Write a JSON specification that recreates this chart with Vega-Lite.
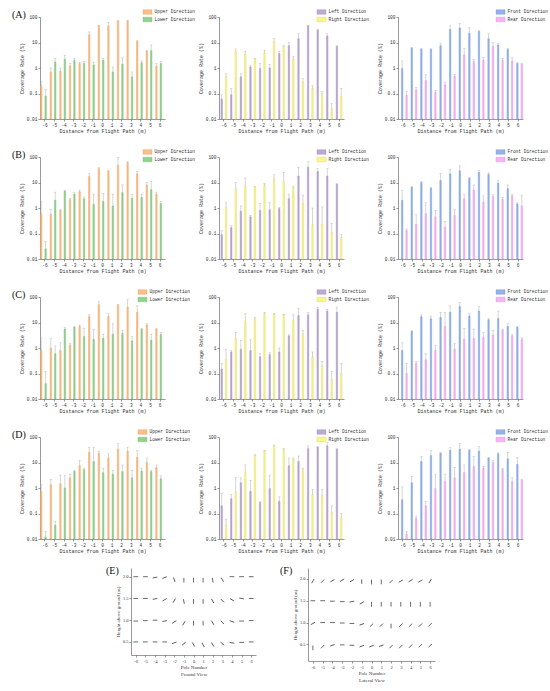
{
  "$schema": "https://vega.github.io/schema/vega-lite/v6.json",
  "background": "white",
  "padding": {"left": 12, "top": 9, "right": 0, "bottom": 0},
  "config": {
    "view": {"stroke": null},
    "axis": {"grid": false, "labelFont": "Liberation Mono", "titleFont": "Liberation Mono", "labelFontSize": 4.5, "titleFontSize": 5, "titleFontWeight": "normal", "labelColor": "#333", "titleColor": "#333", "domainColor": "#555", "tickColor": "#555", "domainWidth": 0.6, "tickWidth": 0.6, "tickSize": 2, "labelPadding": 1, "titlePadding": 2},
    "legend": {"labelFont": "Liberation Mono", "labelFontSize": 4.5, "labelColor": "#333", "symbolType": "M-2,-1H2V1H-2Z", "symbolSize": 20, "rowPadding": 0.5, "labelOffset": 4.5, "padding": 0, "symbolStrokeWidth": 0.4},
    "title": {"font": "Liberation Serif", "fontSize": 10, "fontWeight": "normal", "color": "#111", "anchor": "start", "frame": "group", "offset": 2}
  },
  "datasets": {
    "bars": [
      {"p":"A1","s":"Upper Direction","x":-6,"v":0.2,"h":0.3},{"p":"A1","s":"Upper Direction","x":-5,"v":0.7,"h":1.0},{"p":"A1","s":"Upper Direction","x":-4,"v":0.75,"h":1.0},{"p":"A1","s":"Upper Direction","x":-3,"v":1.2,"h":1.5},{"p":"A1","s":"Upper Direction","x":-2,"v":1.5,"h":1.7},{"p":"A1","s":"Upper Direction","x":-1,"v":20,"h":26},{"p":"A1","s":"Upper Direction","x":0,"v":45,"h":47},{"p":"A1","s":"Upper Direction","x":1,"v":45,"h":62},{"p":"A1","s":"Upper Direction","x":2,"v":70,"h":72},{"p":"A1","s":"Upper Direction","x":3,"v":70,"h":72},{"p":"A1","s":"Upper Direction","x":4,"v":11,"h":12},{"p":"A1","s":"Upper Direction","x":5,"v":4.5,"h":5},{"p":"A1","s":"Upper Direction","x":6,"v":1.2,"h":1.5},
      {"p":"A1","s":"Lower Direction","x":-6,"v":0.08,"h":0.14},{"p":"A1","s":"Lower Direction","x":-5,"v":1.7,"h":2.4},{"p":"A1","s":"Lower Direction","x":-4,"v":2.2,"h":3.2},{"p":"A1","s":"Lower Direction","x":-3,"v":2.0,"h":2.4},{"p":"A1","s":"Lower Direction","x":-2,"v":1.5,"h":1.8},{"p":"A1","s":"Lower Direction","x":-1,"v":1.3,"h":1.7},{"p":"A1","s":"Lower Direction","x":0,"v":2.0,"h":2.4},{"p":"A1","s":"Lower Direction","x":1,"v":0.7,"h":1.1},{"p":"A1","s":"Lower Direction","x":2,"v":1.4,"h":2.5},{"p":"A1","s":"Lower Direction","x":3,"v":0.45,"h":0.7},{"p":"A1","s":"Lower Direction","x":4,"v":1.6,"h":1.9},{"p":"A1","s":"Lower Direction","x":5,"v":4.8,"h":8},{"p":"A1","s":"Lower Direction","x":6,"v":1.5,"h":1.8},
      {"p":"A2","s":"Left Direction","x":-6,"v":0.06,"h":0.09},{"p":"A2","s":"Left Direction","x":-5,"v":0.09,"h":0.16},{"p":"A2","s":"Left Direction","x":-4,"v":0.45,"h":0.6},{"p":"A2","s":"Left Direction","x":-3,"v":1.1,"h":1.3},{"p":"A2","s":"Left Direction","x":-2,"v":0.95,"h":1.5},{"p":"A2","s":"Left Direction","x":-1,"v":1.0,"h":1.4},{"p":"A2","s":"Left Direction","x":0,"v":3.7,"h":4.5},{"p":"A2","s":"Left Direction","x":1,"v":7.5,"h":10},{"p":"A2","s":"Left Direction","x":2,"v":14,"h":22},{"p":"A2","s":"Left Direction","x":3,"v":45,"h":47},{"p":"A2","s":"Left Direction","x":4,"v":30,"h":32},{"p":"A2","s":"Left Direction","x":5,"v":18,"h":22},{"p":"A2","s":"Left Direction","x":6,"v":7,"h":7.5},
      {"p":"A2","s":"Right Direction","x":-6,"v":0.45,"h":0.6},{"p":"A2","s":"Right Direction","x":-5,"v":4.5,"h":5.5},{"p":"A2","s":"Right Direction","x":-4,"v":3.5,"h":4.5},{"p":"A2","s":"Right Direction","x":-3,"v":2.2,"h":2.4},{"p":"A2","s":"Right Direction","x":-2,"v":4.0,"h":5},{"p":"A2","s":"Right Direction","x":-1,"v":11,"h":14},{"p":"A2","s":"Right Direction","x":0,"v":7,"h":7.5},{"p":"A2","s":"Right Direction","x":1,"v":2.3,"h":2.8},{"p":"A2","s":"Right Direction","x":2,"v":0.28,"h":0.38},{"p":"A2","s":"Right Direction","x":3,"v":0.16,"h":0.2},{"p":"A2","s":"Right Direction","x":4,"v":0.1,"h":0.12},{"p":"A2","s":"Right Direction","x":5,"v":0.025,"h":0.04},{"p":"A2","s":"Right Direction","x":6,"v":0.075,"h":0.16},
      {"p":"A3","s":"Front Direction","x":-6,"v":0.95,"h":1.9},{"p":"A3","s":"Front Direction","x":-5,"v":6,"h":6.5},{"p":"A3","s":"Front Direction","x":-4,"v":5.5,"h":6},{"p":"A3","s":"Front Direction","x":-3,"v":5.3,"h":5.8},{"p":"A3","s":"Front Direction","x":-2,"v":7.5,"h":9},{"p":"A3","s":"Front Direction","x":-1,"v":33,"h":45},{"p":"A3","s":"Front Direction","x":0,"v":37,"h":55},{"p":"A3","s":"Front Direction","x":1,"v":23,"h":38},{"p":"A3","s":"Front Direction","x":2,"v":27,"h":29},{"p":"A3","s":"Front Direction","x":3,"v":14,"h":22},{"p":"A3","s":"Front Direction","x":4,"v":8,"h":9},{"p":"A3","s":"Front Direction","x":5,"v":5.3,"h":6},{"p":"A3","s":"Front Direction","x":6,"v":1.5,"h":1.6},
      {"p":"A3","s":"Rear Direction","x":-6,"v":0.085,"h":0.12},{"p":"A3","s":"Rear Direction","x":-5,"v":0.14,"h":0.17},{"p":"A3","s":"Rear Direction","x":-4,"v":0.32,"h":0.55},{"p":"A3","s":"Rear Direction","x":-3,"v":0.11,"h":0.13},{"p":"A3","s":"Rear Direction","x":-2,"v":0.22,"h":0.28},{"p":"A3","s":"Rear Direction","x":-1,"v":0.48,"h":0.55},{"p":"A3","s":"Rear Direction","x":0,"v":3.3,"h":6},{"p":"A3","s":"Rear Direction","x":1,"v":1.8,"h":2.2},{"p":"A3","s":"Rear Direction","x":2,"v":2.0,"h":2.6},{"p":"A3","s":"Rear Direction","x":3,"v":7,"h":10},{"p":"A3","s":"Rear Direction","x":4,"v":2.0,"h":2.4},{"p":"A3","s":"Rear Direction","x":5,"v":1.9,"h":2.5},{"p":"A3","s":"Rear Direction","x":6,"v":1.4,"h":1.5},
      {"p":"B1","s":"Upper Direction","x":-6,"v":0.6,"h":1.8},{"p":"B1","s":"Upper Direction","x":-5,"v":0.55,"h":0.9},{"p":"B1","s":"Upper Direction","x":-4,"v":0.8,"h":0.9},{"p":"B1","s":"Upper Direction","x":-3,"v":2.1,"h":2.4},{"p":"B1","s":"Upper Direction","x":-2,"v":4.3,"h":5},{"p":"B1","s":"Upper Direction","x":-1,"v":17,"h":22},{"p":"B1","s":"Upper Direction","x":0,"v":35,"h":38},{"p":"B1","s":"Upper Direction","x":1,"v":28,"h":30},{"p":"B1","s":"Upper Direction","x":2,"v":48,"h":95},{"p":"B1","s":"Upper Direction","x":3,"v":60,"h":65},{"p":"B1","s":"Upper Direction","x":4,"v":22,"h":27},{"p":"B1","s":"Upper Direction","x":5,"v":8,"h":10},{"p":"B1","s":"Upper Direction","x":6,"v":3.5,"h":4.2},
      {"p":"B1","s":"Lower Direction","x":-6,"v":0.025,"h":0.05},{"p":"B1","s":"Lower Direction","x":-5,"v":2.0,"h":4.2},{"p":"B1","s":"Lower Direction","x":-4,"v":4.5,"h":5},{"p":"B1","s":"Lower Direction","x":-3,"v":3.5,"h":4.2},{"p":"B1","s":"Lower Direction","x":-2,"v":2.3,"h":2.7},{"p":"B1","s":"Lower Direction","x":-1,"v":1.4,"h":3.5},{"p":"B1","s":"Lower Direction","x":0,"v":1.8,"h":3.7},{"p":"B1","s":"Lower Direction","x":1,"v":1.2,"h":3.5},{"p":"B1","s":"Lower Direction","x":2,"v":4.0,"h":8},{"p":"B1","s":"Lower Direction","x":3,"v":2.4,"h":3.5},{"p":"B1","s":"Lower Direction","x":4,"v":2.6,"h":3.5},{"p":"B1","s":"Lower Direction","x":5,"v":5.3,"h":11},{"p":"B1","s":"Lower Direction","x":6,"v":1.5,"h":1.8},
      {"p":"B2","s":"Left Direction","x":-6,"v":0.09,"h":0.13},{"p":"B2","s":"Left Direction","x":-5,"v":0.17,"h":0.2},{"p":"B2","s":"Left Direction","x":-4,"v":0.75,"h":1.2},{"p":"B2","s":"Left Direction","x":-3,"v":0.45,"h":0.52},{"p":"B2","s":"Left Direction","x":-2,"v":0.8,"h":1.5},{"p":"B2","s":"Left Direction","x":-1,"v":0.85,"h":1.6},{"p":"B2","s":"Left Direction","x":0,"v":0.95,"h":1.05},{"p":"B2","s":"Left Direction","x":1,"v":2.3,"h":3.5},{"p":"B2","s":"Left Direction","x":2,"v":18,"h":40},{"p":"B2","s":"Left Direction","x":3,"v":40,"h":65},{"p":"B2","s":"Left Direction","x":4,"v":27,"h":35},{"p":"B2","s":"Left Direction","x":5,"v":18,"h":35},{"p":"B2","s":"Left Direction","x":6,"v":8.5,"h":9},
      {"p":"B2","s":"Right Direction","x":-6,"v":1.1,"h":1.6},{"p":"B2","s":"Right Direction","x":-5,"v":5.5,"h":10},{"p":"B2","s":"Right Direction","x":-4,"v":7.5,"h":15},{"p":"B2","s":"Right Direction","x":-3,"v":6.5,"h":7},{"p":"B2","s":"Right Direction","x":-2,"v":8,"h":9},{"p":"B2","s":"Right Direction","x":-1,"v":14,"h":20},{"p":"B2","s":"Right Direction","x":0,"v":11,"h":25},{"p":"B2","s":"Right Direction","x":1,"v":6.2,"h":7},{"p":"B2","s":"Right Direction","x":2,"v":1.5,"h":3.2},{"p":"B2","s":"Right Direction","x":3,"v":0.22,"h":1.0},{"p":"B2","s":"Right Direction","x":4,"v":0.23,"h":1.1},{"p":"B2","s":"Right Direction","x":5,"v":0.11,"h":0.25},{"p":"B2","s":"Right Direction","x":6,"v":0.07,"h":0.09},
      {"p":"B3","s":"Front Direction","x":-6,"v":2,"h":5},{"p":"B3","s":"Front Direction","x":-5,"v":6.5,"h":7},{"p":"B3","s":"Front Direction","x":-4,"v":10,"h":11},{"p":"B3","s":"Front Direction","x":-3,"v":6,"h":6.5},{"p":"B3","s":"Front Direction","x":-2,"v":12,"h":23},{"p":"B3","s":"Front Direction","x":-1,"v":22,"h":33},{"p":"B3","s":"Front Direction","x":0,"v":29,"h":45},{"p":"B3","s":"Front Direction","x":1,"v":14.5,"h":16},{"p":"B3","s":"Front Direction","x":2,"v":25,"h":30},{"p":"B3","s":"Front Direction","x":3,"v":21,"h":24},{"p":"B3","s":"Front Direction","x":4,"v":9.5,"h":12},{"p":"B3","s":"Front Direction","x":5,"v":5.8,"h":8},{"p":"B3","s":"Front Direction","x":6,"v":1.45,"h":1.6},
      {"p":"B3","s":"Rear Direction","x":-6,"v":0.13,"h":0.15},{"p":"B3","s":"Rear Direction","x":-5,"v":0.23,"h":0.55},{"p":"B3","s":"Rear Direction","x":-4,"v":0.6,"h":1.6},{"p":"B3","s":"Rear Direction","x":-3,"v":0.45,"h":0.8},{"p":"B3","s":"Rear Direction","x":-2,"v":0.18,"h":0.3},{"p":"B3","s":"Rear Direction","x":-1,"v":0.5,"h":0.9},{"p":"B3","s":"Rear Direction","x":0,"v":2.3,"h":3.5},{"p":"B3","s":"Rear Direction","x":1,"v":5,"h":8},{"p":"B3","s":"Rear Direction","x":2,"v":1.7,"h":3},{"p":"B3","s":"Rear Direction","x":3,"v":2.8,"h":3.3},{"p":"B3","s":"Rear Direction","x":4,"v":2.2,"h":2.6},{"p":"B3","s":"Rear Direction","x":5,"v":3.0,"h":3.5},{"p":"B3","s":"Rear Direction","x":6,"v":1.2,"h":3.2},
      {"p":"C1","s":"Upper Direction","x":-6,"v":0.85,"h":2.5},{"p":"C1","s":"Upper Direction","x":-5,"v":1.0,"h":2.3},{"p":"C1","s":"Upper Direction","x":-4,"v":0.8,"h":1.6},{"p":"C1","s":"Upper Direction","x":-3,"v":1.3,"h":1.5},{"p":"C1","s":"Upper Direction","x":-2,"v":7,"h":8},{"p":"C1","s":"Upper Direction","x":-1,"v":17,"h":20},{"p":"C1","s":"Upper Direction","x":0,"v":50,"h":65},{"p":"C1","s":"Upper Direction","x":1,"v":17,"h":22},{"p":"C1","s":"Upper Direction","x":2,"v":48,"h":52},{"p":"C1","s":"Upper Direction","x":3,"v":40,"h":80},{"p":"C1","s":"Upper Direction","x":4,"v":25,"h":45},{"p":"C1","s":"Upper Direction","x":5,"v":8,"h":9},{"p":"C1","s":"Upper Direction","x":6,"v":5.5,"h":6},
      {"p":"C1","s":"Lower Direction","x":-6,"v":0.04,"h":0.12},{"p":"C1","s":"Lower Direction","x":-5,"v":0.6,"h":1.2},{"p":"C1","s":"Lower Direction","x":-4,"v":5.5,"h":6.5},{"p":"C1","s":"Lower Direction","x":-3,"v":6.5,"h":7},{"p":"C1","s":"Lower Direction","x":-2,"v":2.8,"h":6},{"p":"C1","s":"Lower Direction","x":-1,"v":2.2,"h":5.5},{"p":"C1","s":"Lower Direction","x":0,"v":2.4,"h":3.5},{"p":"C1","s":"Lower Direction","x":1,"v":3.5,"h":9},{"p":"C1","s":"Lower Direction","x":2,"v":3.7,"h":5},{"p":"C1","s":"Lower Direction","x":3,"v":1.9,"h":2.8},{"p":"C1","s":"Lower Direction","x":4,"v":5.5,"h":6},{"p":"C1","s":"Lower Direction","x":5,"v":2.0,"h":3.5},{"p":"C1","s":"Lower Direction","x":6,"v":3.4,"h":4},
      {"p":"C2","s":"Left Direction","x":-6,"v":0.15,"h":0.25},{"p":"C2","s":"Left Direction","x":-5,"v":0.7,"h":0.8},{"p":"C2","s":"Left Direction","x":-4,"v":0.9,"h":2},{"p":"C2","s":"Left Direction","x":-3,"v":0.8,"h":2.1},{"p":"C2","s":"Left Direction","x":-2,"v":0.45,"h":0.6},{"p":"C2","s":"Left Direction","x":-1,"v":0.55,"h":0.65},{"p":"C2","s":"Left Direction","x":0,"v":0.7,"h":1},{"p":"C2","s":"Left Direction","x":1,"v":3,"h":3.3},{"p":"C2","s":"Left Direction","x":2,"v":19,"h":35},{"p":"C2","s":"Left Direction","x":3,"v":20,"h":25},{"p":"C2","s":"Left Direction","x":4,"v":33,"h":40},{"p":"C2","s":"Left Direction","x":5,"v":28,"h":33},{"p":"C2","s":"Left Direction","x":6,"v":25,"h":40},
      {"p":"C2","s":"Right Direction","x":-6,"v":0.35,"h":0.9},{"p":"C2","s":"Right Direction","x":-5,"v":2.4,"h":4},{"p":"C2","s":"Right Direction","x":-4,"v":11,"h":22},{"p":"C2","s":"Right Direction","x":-3,"v":14,"h":16},{"p":"C2","s":"Right Direction","x":-2,"v":22,"h":25},{"p":"C2","s":"Right Direction","x":-1,"v":21,"h":23},{"p":"C2","s":"Right Direction","x":0,"v":20,"h":21},{"p":"C2","s":"Right Direction","x":1,"v":12,"h":20},{"p":"C2","s":"Right Direction","x":2,"v":3.5,"h":5},{"p":"C2","s":"Right Direction","x":3,"v":0.45,"h":0.7},{"p":"C2","s":"Right Direction","x":4,"v":0.2,"h":0.3},{"p":"C2","s":"Right Direction","x":5,"v":0.06,"h":0.12},{"p":"C2","s":"Right Direction","x":6,"v":0.1,"h":0.25},
      {"p":"C3","s":"Front Direction","x":-6,"v":0.8,"h":1.6},{"p":"C3","s":"Front Direction","x":-5,"v":4.5,"h":5},{"p":"C3","s":"Front Direction","x":-4,"v":17,"h":20},{"p":"C3","s":"Front Direction","x":-3,"v":14,"h":18},{"p":"C3","s":"Front Direction","x":-2,"v":16,"h":25},{"p":"C3","s":"Front Direction","x":-1,"v":25,"h":45},{"p":"C3","s":"Front Direction","x":0,"v":42,"h":62},{"p":"C3","s":"Front Direction","x":1,"v":18,"h":22},{"p":"C3","s":"Front Direction","x":2,"v":28,"h":42},{"p":"C3","s":"Front Direction","x":3,"v":13,"h":14},{"p":"C3","s":"Front Direction","x":4,"v":14.5,"h":28},{"p":"C3","s":"Front Direction","x":5,"v":7,"h":9},{"p":"C3","s":"Front Direction","x":6,"v":6.5,"h":7},
      {"p":"C3","s":"Rear Direction","x":-6,"v":0.1,"h":0.25},{"p":"C3","s":"Rear Direction","x":-5,"v":0.25,"h":0.3},{"p":"C3","s":"Rear Direction","x":-4,"v":0.35,"h":0.6},{"p":"C3","s":"Rear Direction","x":-3,"v":0.8,"h":1.3},{"p":"C3","s":"Rear Direction","x":-2,"v":7,"h":25},{"p":"C3","s":"Rear Direction","x":-1,"v":0.9,"h":1.5},{"p":"C3","s":"Rear Direction","x":0,"v":2.2,"h":6},{"p":"C3","s":"Rear Direction","x":1,"v":2.4,"h":5.5},{"p":"C3","s":"Rear Direction","x":2,"v":2.6,"h":4},{"p":"C3","s":"Rear Direction","x":3,"v":3.2,"h":5},{"p":"C3","s":"Rear Direction","x":4,"v":5,"h":5.5},{"p":"C3","s":"Rear Direction","x":5,"v":3,"h":3.5},{"p":"C3","s":"Rear Direction","x":6,"v":2.2,"h":2.5},
      {"p":"D1","s":"Upper Direction","x":-6,"v":0.7,"h":1.4},{"p":"D1","s":"Upper Direction","x":-5,"v":1.35,"h":2.2},{"p":"D1","s":"Upper Direction","x":-4,"v":1.45,"h":3.2},{"p":"D1","s":"Upper Direction","x":-3,"v":2.5,"h":3.5},{"p":"D1","s":"Upper Direction","x":-2,"v":7.5,"h":12},{"p":"D1","s":"Upper Direction","x":-1,"v":25,"h":40},{"p":"D1","s":"Upper Direction","x":0,"v":23,"h":28},{"p":"D1","s":"Upper Direction","x":1,"v":15,"h":22},{"p":"D1","s":"Upper Direction","x":2,"v":33,"h":55},{"p":"D1","s":"Upper Direction","x":3,"v":28,"h":40},{"p":"D1","s":"Upper Direction","x":4,"v":16,"h":30},{"p":"D1","s":"Upper Direction","x":5,"v":10,"h":15},{"p":"D1","s":"Upper Direction","x":6,"v":6.3,"h":8},
      {"p":"D1","s":"Lower Direction","x":-6,"v":0.012,"h":0.02},{"p":"D1","s":"Lower Direction","x":-5,"v":0.035,"h":0.05},{"p":"D1","s":"Lower Direction","x":-4,"v":1.0,"h":3},{"p":"D1","s":"Lower Direction","x":-3,"v":4.5,"h":5},{"p":"D1","s":"Lower Direction","x":-2,"v":5.2,"h":6},{"p":"D1","s":"Lower Direction","x":-1,"v":11,"h":40},{"p":"D1","s":"Lower Direction","x":0,"v":4,"h":6},{"p":"D1","s":"Lower Direction","x":1,"v":3.5,"h":5},{"p":"D1","s":"Lower Direction","x":2,"v":4.4,"h":8},{"p":"D1","s":"Lower Direction","x":3,"v":2.5,"h":5},{"p":"D1","s":"Lower Direction","x":4,"v":4.6,"h":6},{"p":"D1","s":"Lower Direction","x":5,"v":4.4,"h":5},{"p":"D1","s":"Lower Direction","x":6,"v":2.3,"h":3},
      {"p":"D2","s":"Left Direction","x":-6,"v":0.2,"h":0.6},{"p":"D2","s":"Left Direction","x":-5,"v":0.38,"h":0.55},{"p":"D2","s":"Left Direction","x":-4,"v":1.6,"h":2.5},{"p":"D2","s":"Left Direction","x":-3,"v":0.75,"h":2},{"p":"D2","s":"Left Direction","x":-2,"v":0.27,"h":0.3},{"p":"D2","s":"Left Direction","x":-1,"v":0.95,"h":3.2},{"p":"D2","s":"Left Direction","x":0,"v":0.3,"h":0.45},{"p":"D2","s":"Left Direction","x":1,"v":7.5,"h":15},{"p":"D2","s":"Left Direction","x":2,"v":11,"h":18},{"p":"D2","s":"Left Direction","x":3,"v":35,"h":45},{"p":"D2","s":"Left Direction","x":4,"v":40,"h":42},{"p":"D2","s":"Left Direction","x":5,"v":45,"h":60},{"p":"D2","s":"Left Direction","x":6,"v":33,"h":35},
      {"p":"D2","s":"Right Direction","x":-6,"v":0.035,"h":0.06},{"p":"D2","s":"Right Direction","x":-5,"v":0.7,"h":2.5},{"p":"D2","s":"Right Direction","x":-4,"v":4,"h":8},{"p":"D2","s":"Right Direction","x":-3,"v":19,"h":20},{"p":"D2","s":"Right Direction","x":-2,"v":28,"h":30},{"p":"D2","s":"Right Direction","x":-1,"v":45,"h":48},{"p":"D2","s":"Right Direction","x":0,"v":32,"h":35},{"p":"D2","s":"Right Direction","x":1,"v":13,"h":15},{"p":"D2","s":"Right Direction","x":2,"v":5,"h":6},{"p":"D2","s":"Right Direction","x":3,"v":0.55,"h":0.9},{"p":"D2","s":"Right Direction","x":4,"v":0.5,"h":0.9},{"p":"D2","s":"Right Direction","x":5,"v":0.11,"h":0.2},{"p":"D2","s":"Right Direction","x":6,"v":0.07,"h":0.1},
      {"p":"D3","s":"Front Direction","x":-6,"v":0.35,"h":1.1},{"p":"D3","s":"Front Direction","x":-5,"v":1.6,"h":2.8},{"p":"D3","s":"Front Direction","x":-4,"v":11,"h":17},{"p":"D3","s":"Front Direction","x":-3,"v":19,"h":30},{"p":"D3","s":"Front Direction","x":-2,"v":23,"h":25},{"p":"D3","s":"Front Direction","x":-1,"v":30,"h":38},{"p":"D3","s":"Front Direction","x":0,"v":33,"h":55},{"p":"D3","s":"Front Direction","x":1,"v":30,"h":33},{"p":"D3","s":"Front Direction","x":2,"v":28,"h":42},{"p":"D3","s":"Front Direction","x":3,"v":15,"h":16},{"p":"D3","s":"Front Direction","x":4,"v":22,"h":24},{"p":"D3","s":"Front Direction","x":5,"v":14,"h":25},{"p":"D3","s":"Front Direction","x":6,"v":8.5,"h":16},
      {"p":"D3","s":"Rear Direction","x":-6,"v":0.015,"h":0.02},{"p":"D3","s":"Rear Direction","x":-5,"v":0.065,"h":0.08},{"p":"D3","s":"Rear Direction","x":-4,"v":0.2,"h":0.3},{"p":"D3","s":"Rear Direction","x":-3,"v":0.95,"h":3.5},{"p":"D3","s":"Rear Direction","x":-2,"v":1.8,"h":3.5},{"p":"D3","s":"Rear Direction","x":-1,"v":2.5,"h":6.5},{"p":"D3","s":"Rear Direction","x":0,"v":4,"h":8},{"p":"D3","s":"Rear Direction","x":1,"v":7,"h":17},{"p":"D3","s":"Rear Direction","x":2,"v":6,"h":7},{"p":"D3","s":"Rear Direction","x":3,"v":10,"h":12},{"p":"D3","s":"Rear Direction","x":4,"v":5.3,"h":6},{"p":"D3","s":"Rear Direction","x":5,"v":1.8,"h":2.5},{"p":"D3","s":"Rear Direction","x":6,"v":2.0,"h":2.2}
    ],
    "arrows": [
      {"g":"E","x":-6,"y":2.0,"a":0},{"g":"E","x":-5,"y":2.0,"a":0},{"g":"E","x":-4,"y":1.98,"a":-10},{"g":"E","x":-3,"y":1.98,"a":-20},{"g":"E","x":-2,"y":1.93,"a":70},{"g":"E","x":-1,"y":1.92,"a":90},{"g":"E","x":0,"y":1.92,"a":90},{"g":"E","x":1,"y":1.92,"a":90},{"g":"E","x":2,"y":1.92,"a":80},{"g":"E","x":3,"y":1.93,"a":60},{"g":"E","x":4,"y":2.0,"a":0},{"g":"E","x":5,"y":2.0,"a":0},{"g":"E","x":6,"y":2.0,"a":0},
      {"g":"E","x":-6,"y":1.5,"a":0},{"g":"E","x":-5,"y":1.5,"a":0},{"g":"E","x":-4,"y":1.49,"a":-10},{"g":"E","x":-3,"y":1.47,"a":-30},{"g":"E","x":-2,"y":1.45,"a":-60},{"g":"E","x":-1,"y":1.43,"a":80},{"g":"E","x":0,"y":1.43,"a":90},{"g":"E","x":1,"y":1.43,"a":90},{"g":"E","x":2,"y":1.44,"a":60},{"g":"E","x":3,"y":1.45,"a":45},{"g":"E","x":4,"y":1.47,"a":30},{"g":"E","x":5,"y":1.5,"a":10},{"g":"E","x":6,"y":1.5,"a":0},
      {"g":"E","x":-6,"y":0.98,"a":0},{"g":"E","x":-5,"y":0.99,"a":0},{"g":"E","x":-4,"y":1.0,"a":0},{"g":"E","x":-3,"y":0.98,"a":-10},{"g":"E","x":-2,"y":0.96,"a":-30},{"g":"E","x":-1,"y":0.93,"a":-60},{"g":"E","x":0,"y":0.93,"a":90},{"g":"E","x":1,"y":0.93,"a":90},{"g":"E","x":2,"y":0.94,"a":60},{"g":"E","x":3,"y":0.95,"a":45},{"g":"E","x":4,"y":0.97,"a":20},{"g":"E","x":5,"y":0.98,"a":0},{"g":"E","x":6,"y":0.99,"a":0},
      {"g":"E","x":-6,"y":0.5,"a":0},{"g":"E","x":-5,"y":0.5,"a":0},{"g":"E","x":-4,"y":0.5,"a":0},{"g":"E","x":-3,"y":0.5,"a":0},{"g":"E","x":-2,"y":0.48,"a":-20},{"g":"E","x":-1,"y":0.46,"a":-40},{"g":"E","x":0,"y":0.44,"a":60},{"g":"E","x":1,"y":0.43,"a":60},{"g":"E","x":2,"y":0.44,"a":60},{"g":"E","x":3,"y":0.46,"a":40},{"g":"E","x":4,"y":0.48,"a":10},{"g":"E","x":5,"y":0.49,"a":0},{"g":"E","x":6,"y":0.5,"a":0},
      {"g":"F","x":-6,"y":1.95,"a":-60},{"g":"F","x":-5,"y":1.95,"a":-45},{"g":"F","x":-4,"y":1.96,"a":-30},{"g":"F","x":-3,"y":1.97,"a":-30},{"g":"F","x":-2,"y":1.96,"a":-30},{"g":"F","x":-1,"y":1.94,"a":90},{"g":"F","x":0,"y":1.93,"a":90},{"g":"F","x":1,"y":1.93,"a":90},{"g":"F","x":2,"y":1.94,"a":-45},{"g":"F","x":3,"y":1.95,"a":-30},{"g":"F","x":4,"y":1.96,"a":-30},{"g":"F","x":5,"y":1.95,"a":-30},{"g":"F","x":6,"y":1.95,"a":-60},
      {"g":"F","x":-6,"y":1.5,"a":0},{"g":"F","x":-5,"y":1.5,"a":0},{"g":"F","x":-4,"y":1.49,"a":0},{"g":"F","x":-3,"y":1.48,"a":0},{"g":"F","x":-2,"y":1.48,"a":-10},{"g":"F","x":-1,"y":1.45,"a":-30},{"g":"F","x":0,"y":1.42,"a":90},{"g":"F","x":1,"y":1.42,"a":90},{"g":"F","x":2,"y":1.42,"a":90},{"g":"F","x":3,"y":1.42,"a":90},{"g":"F","x":4,"y":1.42,"a":90},{"g":"F","x":5,"y":1.42,"a":90},{"g":"F","x":6,"y":1.42,"a":90},
      {"g":"F","x":-6,"y":0.98,"a":-30},{"g":"F","x":-5,"y":1.0,"a":0},{"g":"F","x":-4,"y":1.0,"a":0},{"g":"F","x":-3,"y":0.99,"a":0},{"g":"F","x":-2,"y":0.98,"a":0},{"g":"F","x":-1,"y":0.96,"a":-20},{"g":"F","x":0,"y":0.94,"a":-45},{"g":"F","x":1,"y":0.94,"a":-45},{"g":"F","x":2,"y":0.92,"a":90},{"g":"F","x":3,"y":0.94,"a":-45},{"g":"F","x":4,"y":0.94,"a":-45},{"g":"F","x":5,"y":0.94,"a":-45},{"g":"F","x":6,"y":0.95,"a":-45},
      {"g":"F","x":-6,"y":0.42,"a":90},{"g":"F","x":-5,"y":0.45,"a":-45},{"g":"F","x":-4,"y":0.48,"a":-20},{"g":"F","x":-3,"y":0.49,"a":0},{"g":"F","x":-2,"y":0.48,"a":0},{"g":"F","x":-1,"y":0.46,"a":-20},{"g":"F","x":0,"y":0.46,"a":-20},{"g":"F","x":1,"y":0.47,"a":-20},{"g":"F","x":2,"y":0.45,"a":-45},{"g":"F","x":3,"y":0.45,"a":-45},{"g":"F","x":4,"y":0.46,"a":-45},{"g":"F","x":5,"y":0.47,"a":-45},{"g":"F","x":6,"y":0.47,"a":-45}
    ]
  },
  "spacing": 12,
  "resolve": {"scale": {"color": "independent", "stroke": "independent", "x": "independent", "y": "independent"}, "legend": {"color": "independent"}},
  "vconcat": [
    {
      "columns": 3,
      "bounds": "flush",
      "spacing": {"row": 38, "column": 54},
      "resolve": {"scale": {"color": "independent", "stroke": "independent", "x": "independent", "y": "independent"}, "legend": {"color": "independent"}},
      "concat": [
        {"width": 125, "height": 102, "title": {"text": "(A)", "dx": -28, "dy": 12}, "data": {"name": "bars"}, "transform": [{"filter": "datum.p == 'A1'"}],
         "encoding": {"x": {"field": "x", "type": "ordinal", "scale": {"paddingInner": 0.08, "paddingOuter": 0.05}, "axis": {"labelAngle": 0, "title": "Distance from Flight Path (m)"}}, "xOffset": {"field": "s", "type": "nominal", "sort": ["Upper Direction", "Lower Direction"], "scale": {"paddingInner": 0, "paddingOuter": 0}}},
         "layer": [
           {"mark": {"type": "bar", "strokeWidth": 0.4}, "encoding": {"y": {"field": "v", "type": "quantitative", "title": "Coverage Rate (%)", "scale": {"type": "log", "domain": [0.01, 100], "clamp": true}, "axis": {"values": [0.01, 0.1, 1, 10, 100], "format": "~g"}}, "color": {"field": "s", "type": "nominal", "scale": {"domain": ["Upper Direction", "Lower Direction"], "range": ["#F9C08B", "#92D38F"]}, "legend": {"orient": "none", "legendX": 105, "legendY": -7.5, "title": null}}, "stroke": {"field": "s", "type": "nominal", "scale": {"domain": ["Upper Direction", "Lower Direction"], "range": ["#E59A55", "#6FB66C"]}, "legend": null}}},
           {"mark": {"type": "rule", "color": "#aaa", "strokeWidth": 0.5}, "encoding": {"y": {"field": "v", "type": "quantitative", "title": "Coverage Rate (%)"}, "y2": {"field": "h"}}},
           {"mark": {"type": "tick", "color": "#aaa", "thickness": 0.5, "size": 2.5}, "encoding": {"y": {"field": "h", "type": "quantitative", "title": "Coverage Rate (%)"}}}
         ]},
        {"width": 125, "height": 102, "data": {"name": "bars"}, "transform": [{"filter": "datum.p == 'A2'"}],
         "encoding": {"x": {"field": "x", "type": "ordinal", "scale": {"paddingInner": 0.08, "paddingOuter": 0.05}, "axis": {"labelAngle": 0, "title": "Distance from Flight Path (m)"}}, "xOffset": {"field": "s", "type": "nominal", "sort": ["Left Direction", "Right Direction"], "scale": {"paddingInner": 0, "paddingOuter": 0}}},
         "layer": [
           {"mark": {"type": "bar", "strokeWidth": 0.4}, "encoding": {"y": {"field": "v", "type": "quantitative", "title": "Coverage Rate (%)", "scale": {"type": "log", "domain": [0.01, 100], "clamp": true}, "axis": {"values": [0.01, 0.1, 1, 10, 100], "format": "~g"}}, "color": {"field": "s", "type": "nominal", "scale": {"domain": ["Left Direction", "Right Direction"], "range": ["#BDAAD3", "#FBF58E"]}, "legend": {"orient": "none", "legendX": 100, "legendY": -7.5, "title": null}}, "stroke": {"field": "s", "type": "nominal", "scale": {"domain": ["Left Direction", "Right Direction"], "range": ["#9C87B8", "#DCD35E"]}, "legend": null}}},
           {"mark": {"type": "rule", "color": "#aaa", "strokeWidth": 0.5}, "encoding": {"y": {"field": "v", "type": "quantitative", "title": "Coverage Rate (%)"}, "y2": {"field": "h"}}},
           {"mark": {"type": "tick", "color": "#aaa", "thickness": 0.5, "size": 2.5}, "encoding": {"y": {"field": "h", "type": "quantitative", "title": "Coverage Rate (%)"}}}
         ]},
        {"width": 125, "height": 102, "data": {"name": "bars"}, "transform": [{"filter": "datum.p == 'A3'"}],
         "encoding": {"x": {"field": "x", "type": "ordinal", "scale": {"paddingInner": 0.08, "paddingOuter": 0.05}, "axis": {"labelAngle": 0, "title": "Distance from Flight Path (m)"}}, "xOffset": {"field": "s", "type": "nominal", "sort": ["Front Direction", "Rear Direction"], "scale": {"paddingInner": 0, "paddingOuter": 0}}},
         "layer": [
           {"mark": {"type": "bar", "strokeWidth": 0.4}, "encoding": {"y": {"field": "v", "type": "quantitative", "title": "Coverage Rate (%)", "scale": {"type": "log", "domain": [0.01, 100], "clamp": true}, "axis": {"values": [0.01, 0.1, 1, 10, 100], "format": "~g"}}, "color": {"field": "s", "type": "nominal", "scale": {"domain": ["Front Direction", "Rear Direction"], "range": ["#93B3EC", "#F8B4F4"]}, "legend": {"orient": "none", "legendX": 100, "legendY": -7.5, "title": null}}, "stroke": {"field": "s", "type": "nominal", "scale": {"domain": ["Front Direction", "Rear Direction"], "range": ["#6F93D6", "#E08ADB"]}, "legend": null}}},
           {"mark": {"type": "rule", "color": "#aaa", "strokeWidth": 0.5}, "encoding": {"y": {"field": "v", "type": "quantitative", "title": "Coverage Rate (%)"}, "y2": {"field": "h"}}},
           {"mark": {"type": "tick", "color": "#aaa", "thickness": 0.5, "size": 2.5}, "encoding": {"y": {"field": "h", "type": "quantitative", "title": "Coverage Rate (%)"}}}
         ]},
        {"width": 125, "height": 102, "title": {"text": "(B)", "dx": -28, "dy": 12}, "data": {"name": "bars"}, "transform": [{"filter": "datum.p == 'B1'"}],
         "encoding": {"x": {"field": "x", "type": "ordinal", "scale": {"paddingInner": 0.08, "paddingOuter": 0.05}, "axis": {"labelAngle": 0, "title": "Distance from Flight Path (m)"}}, "xOffset": {"field": "s", "type": "nominal", "sort": ["Upper Direction", "Lower Direction"], "scale": {"paddingInner": 0, "paddingOuter": 0}}},
         "layer": [
           {"mark": {"type": "bar", "strokeWidth": 0.4}, "encoding": {"y": {"field": "v", "type": "quantitative", "title": "Coverage Rate (%)", "scale": {"type": "log", "domain": [0.01, 100], "clamp": true}, "axis": {"values": [0.01, 0.1, 1, 10, 100], "format": "~g"}}, "color": {"field": "s", "type": "nominal", "scale": {"domain": ["Upper Direction", "Lower Direction"], "range": ["#F9C08B", "#92D38F"]}, "legend": {"orient": "none", "legendX": 105, "legendY": -7.5, "title": null}}, "stroke": {"field": "s", "type": "nominal", "scale": {"domain": ["Upper Direction", "Lower Direction"], "range": ["#E59A55", "#6FB66C"]}, "legend": null}}},
           {"mark": {"type": "rule", "color": "#aaa", "strokeWidth": 0.5}, "encoding": {"y": {"field": "v", "type": "quantitative", "title": "Coverage Rate (%)"}, "y2": {"field": "h"}}},
           {"mark": {"type": "tick", "color": "#aaa", "thickness": 0.5, "size": 2.5}, "encoding": {"y": {"field": "h", "type": "quantitative", "title": "Coverage Rate (%)"}}}
         ]},
        {"width": 125, "height": 102, "data": {"name": "bars"}, "transform": [{"filter": "datum.p == 'B2'"}],
         "encoding": {"x": {"field": "x", "type": "ordinal", "scale": {"paddingInner": 0.08, "paddingOuter": 0.05}, "axis": {"labelAngle": 0, "title": "Distance from Flight Path (m)"}}, "xOffset": {"field": "s", "type": "nominal", "sort": ["Left Direction", "Right Direction"], "scale": {"paddingInner": 0, "paddingOuter": 0}}},
         "layer": [
           {"mark": {"type": "bar", "strokeWidth": 0.4}, "encoding": {"y": {"field": "v", "type": "quantitative", "title": "Coverage Rate (%)", "scale": {"type": "log", "domain": [0.01, 100], "clamp": true}, "axis": {"values": [0.01, 0.1, 1, 10, 100], "format": "~g"}}, "color": {"field": "s", "type": "nominal", "scale": {"domain": ["Left Direction", "Right Direction"], "range": ["#BDAAD3", "#FBF58E"]}, "legend": {"orient": "none", "legendX": 100, "legendY": -7.5, "title": null}}, "stroke": {"field": "s", "type": "nominal", "scale": {"domain": ["Left Direction", "Right Direction"], "range": ["#9C87B8", "#DCD35E"]}, "legend": null}}},
           {"mark": {"type": "rule", "color": "#aaa", "strokeWidth": 0.5}, "encoding": {"y": {"field": "v", "type": "quantitative", "title": "Coverage Rate (%)"}, "y2": {"field": "h"}}},
           {"mark": {"type": "tick", "color": "#aaa", "thickness": 0.5, "size": 2.5}, "encoding": {"y": {"field": "h", "type": "quantitative", "title": "Coverage Rate (%)"}}}
         ]},
        {"width": 125, "height": 102, "data": {"name": "bars"}, "transform": [{"filter": "datum.p == 'B3'"}],
         "encoding": {"x": {"field": "x", "type": "ordinal", "scale": {"paddingInner": 0.08, "paddingOuter": 0.05}, "axis": {"labelAngle": 0, "title": "Distance from Flight Path (m)"}}, "xOffset": {"field": "s", "type": "nominal", "sort": ["Front Direction", "Rear Direction"], "scale": {"paddingInner": 0, "paddingOuter": 0}}},
         "layer": [
           {"mark": {"type": "bar", "strokeWidth": 0.4}, "encoding": {"y": {"field": "v", "type": "quantitative", "title": "Coverage Rate (%)", "scale": {"type": "log", "domain": [0.01, 100], "clamp": true}, "axis": {"values": [0.01, 0.1, 1, 10, 100], "format": "~g"}}, "color": {"field": "s", "type": "nominal", "scale": {"domain": ["Front Direction", "Rear Direction"], "range": ["#93B3EC", "#F8B4F4"]}, "legend": {"orient": "none", "legendX": 100, "legendY": -7.5, "title": null}}, "stroke": {"field": "s", "type": "nominal", "scale": {"domain": ["Front Direction", "Rear Direction"], "range": ["#6F93D6", "#E08ADB"]}, "legend": null}}},
           {"mark": {"type": "rule", "color": "#aaa", "strokeWidth": 0.5}, "encoding": {"y": {"field": "v", "type": "quantitative", "title": "Coverage Rate (%)"}, "y2": {"field": "h"}}},
           {"mark": {"type": "tick", "color": "#aaa", "thickness": 0.5, "size": 2.5}, "encoding": {"y": {"field": "h", "type": "quantitative", "title": "Coverage Rate (%)"}}}
         ]},
        {"width": 125, "height": 102, "title": {"text": "(C)", "dx": -28, "dy": 12}, "data": {"name": "bars"}, "transform": [{"filter": "datum.p == 'C1'"}],
         "encoding": {"x": {"field": "x", "type": "ordinal", "scale": {"paddingInner": 0.08, "paddingOuter": 0.05}, "axis": {"labelAngle": 0, "title": "Distance from Flight Path (m)"}}, "xOffset": {"field": "s", "type": "nominal", "sort": ["Upper Direction", "Lower Direction"], "scale": {"paddingInner": 0, "paddingOuter": 0}}},
         "layer": [
           {"mark": {"type": "bar", "strokeWidth": 0.4}, "encoding": {"y": {"field": "v", "type": "quantitative", "title": "Coverage Rate (%)", "scale": {"type": "log", "domain": [0.01, 100], "clamp": true}, "axis": {"values": [0.01, 0.1, 1, 10, 100], "format": "~g"}}, "color": {"field": "s", "type": "nominal", "scale": {"domain": ["Upper Direction", "Lower Direction"], "range": ["#F9C08B", "#92D38F"]}, "legend": {"orient": "none", "legendX": 100, "legendY": -7.5, "title": null}}, "stroke": {"field": "s", "type": "nominal", "scale": {"domain": ["Upper Direction", "Lower Direction"], "range": ["#E59A55", "#6FB66C"]}, "legend": null}}},
           {"mark": {"type": "rule", "color": "#aaa", "strokeWidth": 0.5}, "encoding": {"y": {"field": "v", "type": "quantitative", "title": "Coverage Rate (%)"}, "y2": {"field": "h"}}},
           {"mark": {"type": "tick", "color": "#aaa", "thickness": 0.5, "size": 2.5}, "encoding": {"y": {"field": "h", "type": "quantitative", "title": "Coverage Rate (%)"}}}
         ]},
        {"width": 125, "height": 102, "data": {"name": "bars"}, "transform": [{"filter": "datum.p == 'C2'"}],
         "encoding": {"x": {"field": "x", "type": "ordinal", "scale": {"paddingInner": 0.08, "paddingOuter": 0.05}, "axis": {"labelAngle": 0, "title": "Distance from Flight Path (m)"}}, "xOffset": {"field": "s", "type": "nominal", "sort": ["Left Direction", "Right Direction"], "scale": {"paddingInner": 0, "paddingOuter": 0}}},
         "layer": [
           {"mark": {"type": "bar", "strokeWidth": 0.4}, "encoding": {"y": {"field": "v", "type": "quantitative", "title": "Coverage Rate (%)", "scale": {"type": "log", "domain": [0.01, 100], "clamp": true}, "axis": {"values": [0.01, 0.1, 1, 10, 100], "format": "~g"}}, "color": {"field": "s", "type": "nominal", "scale": {"domain": ["Left Direction", "Right Direction"], "range": ["#BDAAD3", "#FBF58E"]}, "legend": {"orient": "none", "legendX": 100, "legendY": -7.5, "title": null}}, "stroke": {"field": "s", "type": "nominal", "scale": {"domain": ["Left Direction", "Right Direction"], "range": ["#9C87B8", "#DCD35E"]}, "legend": null}}},
           {"mark": {"type": "rule", "color": "#aaa", "strokeWidth": 0.5}, "encoding": {"y": {"field": "v", "type": "quantitative", "title": "Coverage Rate (%)"}, "y2": {"field": "h"}}},
           {"mark": {"type": "tick", "color": "#aaa", "thickness": 0.5, "size": 2.5}, "encoding": {"y": {"field": "h", "type": "quantitative", "title": "Coverage Rate (%)"}}}
         ]},
        {"width": 125, "height": 102, "data": {"name": "bars"}, "transform": [{"filter": "datum.p == 'C3'"}],
         "encoding": {"x": {"field": "x", "type": "ordinal", "scale": {"paddingInner": 0.08, "paddingOuter": 0.05}, "axis": {"labelAngle": 0, "title": "Distance from Flight Path (m)"}}, "xOffset": {"field": "s", "type": "nominal", "sort": ["Front Direction", "Rear Direction"], "scale": {"paddingInner": 0, "paddingOuter": 0}}},
         "layer": [
           {"mark": {"type": "bar", "strokeWidth": 0.4}, "encoding": {"y": {"field": "v", "type": "quantitative", "title": "Coverage Rate (%)", "scale": {"type": "log", "domain": [0.01, 100], "clamp": true}, "axis": {"values": [0.01, 0.1, 1, 10, 100], "format": "~g"}}, "color": {"field": "s", "type": "nominal", "scale": {"domain": ["Front Direction", "Rear Direction"], "range": ["#93B3EC", "#F8B4F4"]}, "legend": {"orient": "none", "legendX": 100, "legendY": -7.5, "title": null}}, "stroke": {"field": "s", "type": "nominal", "scale": {"domain": ["Front Direction", "Rear Direction"], "range": ["#6F93D6", "#E08ADB"]}, "legend": null}}},
           {"mark": {"type": "rule", "color": "#aaa", "strokeWidth": 0.5}, "encoding": {"y": {"field": "v", "type": "quantitative", "title": "Coverage Rate (%)"}, "y2": {"field": "h"}}},
           {"mark": {"type": "tick", "color": "#aaa", "thickness": 0.5, "size": 2.5}, "encoding": {"y": {"field": "h", "type": "quantitative", "title": "Coverage Rate (%)"}}}
         ]},
        {"width": 125, "height": 102, "title": {"text": "(D)", "dx": -28, "dy": 12}, "data": {"name": "bars"}, "transform": [{"filter": "datum.p == 'D1'"}],
         "encoding": {"x": {"field": "x", "type": "ordinal", "scale": {"paddingInner": 0.08, "paddingOuter": 0.05}, "axis": {"labelAngle": 0, "title": "Distance from Flight Path (m)"}}, "xOffset": {"field": "s", "type": "nominal", "sort": ["Upper Direction", "Lower Direction"], "scale": {"paddingInner": 0, "paddingOuter": 0}}},
         "layer": [
           {"mark": {"type": "bar", "strokeWidth": 0.4}, "encoding": {"y": {"field": "v", "type": "quantitative", "title": "Coverage Rate (%)", "scale": {"type": "log", "domain": [0.01, 100], "clamp": true}, "axis": {"values": [0.01, 0.1, 1, 10, 100], "format": "~g"}}, "color": {"field": "s", "type": "nominal", "scale": {"domain": ["Upper Direction", "Lower Direction"], "range": ["#F9C08B", "#92D38F"]}, "legend": {"orient": "none", "legendX": 100, "legendY": -7.5, "title": null}}, "stroke": {"field": "s", "type": "nominal", "scale": {"domain": ["Upper Direction", "Lower Direction"], "range": ["#E59A55", "#6FB66C"]}, "legend": null}}},
           {"mark": {"type": "rule", "color": "#aaa", "strokeWidth": 0.5}, "encoding": {"y": {"field": "v", "type": "quantitative", "title": "Coverage Rate (%)"}, "y2": {"field": "h"}}},
           {"mark": {"type": "tick", "color": "#aaa", "thickness": 0.5, "size": 2.5}, "encoding": {"y": {"field": "h", "type": "quantitative", "title": "Coverage Rate (%)"}}}
         ]},
        {"width": 125, "height": 102, "data": {"name": "bars"}, "transform": [{"filter": "datum.p == 'D2'"}],
         "encoding": {"x": {"field": "x", "type": "ordinal", "scale": {"paddingInner": 0.08, "paddingOuter": 0.05}, "axis": {"labelAngle": 0, "title": "Distance from Flight Path (m)"}}, "xOffset": {"field": "s", "type": "nominal", "sort": ["Left Direction", "Right Direction"], "scale": {"paddingInner": 0, "paddingOuter": 0}}},
         "layer": [
           {"mark": {"type": "bar", "strokeWidth": 0.4}, "encoding": {"y": {"field": "v", "type": "quantitative", "title": "Coverage Rate (%)", "scale": {"type": "log", "domain": [0.01, 100], "clamp": true}, "axis": {"values": [0.01, 0.1, 1, 10, 100], "format": "~g"}}, "color": {"field": "s", "type": "nominal", "scale": {"domain": ["Left Direction", "Right Direction"], "range": ["#BDAAD3", "#FBF58E"]}, "legend": {"orient": "none", "legendX": 100, "legendY": -7.5, "title": null}}, "stroke": {"field": "s", "type": "nominal", "scale": {"domain": ["Left Direction", "Right Direction"], "range": ["#9C87B8", "#DCD35E"]}, "legend": null}}},
           {"mark": {"type": "rule", "color": "#aaa", "strokeWidth": 0.5}, "encoding": {"y": {"field": "v", "type": "quantitative", "title": "Coverage Rate (%)"}, "y2": {"field": "h"}}},
           {"mark": {"type": "tick", "color": "#aaa", "thickness": 0.5, "size": 2.5}, "encoding": {"y": {"field": "h", "type": "quantitative", "title": "Coverage Rate (%)"}}}
         ]},
        {"width": 125, "height": 102, "data": {"name": "bars"}, "transform": [{"filter": "datum.p == 'D3'"}],
         "encoding": {"x": {"field": "x", "type": "ordinal", "scale": {"paddingInner": 0.08, "paddingOuter": 0.05}, "axis": {"labelAngle": 0, "title": "Distance from Flight Path (m)"}}, "xOffset": {"field": "s", "type": "nominal", "sort": ["Front Direction", "Rear Direction"], "scale": {"paddingInner": 0, "paddingOuter": 0}}},
         "layer": [
           {"mark": {"type": "bar", "strokeWidth": 0.4}, "encoding": {"y": {"field": "v", "type": "quantitative", "title": "Coverage Rate (%)", "scale": {"type": "log", "domain": [0.01, 100], "clamp": true}, "axis": {"values": [0.01, 0.1, 1, 10, 100], "format": "~g"}}, "color": {"field": "s", "type": "nominal", "scale": {"domain": ["Front Direction", "Rear Direction"], "range": ["#93B3EC", "#F8B4F4"]}, "legend": {"orient": "none", "legendX": 100, "legendY": -7.5, "title": null}}, "stroke": {"field": "s", "type": "nominal", "scale": {"domain": ["Front Direction", "Rear Direction"], "range": ["#6F93D6", "#E08ADB"]}, "legend": null}}},
           {"mark": {"type": "rule", "color": "#aaa", "strokeWidth": 0.5}, "encoding": {"y": {"field": "v", "type": "quantitative", "title": "Coverage Rate (%)"}, "y2": {"field": "h"}}},
           {"mark": {"type": "tick", "color": "#aaa", "thickness": 0.5, "size": 2.5}, "encoding": {"y": {"field": "h", "type": "quantitative", "title": "Coverage Rate (%)"}}}
         ]}
      ]
    },
    {
      "bounds": "flush",
      "spacing": 52,
      "resolve": {"scale": {"x": "independent", "y": "independent"}},
      "hconcat": [
        {"width": 39, "height": 20, "data": {"values": [{"k": 0}]}, "mark": {"type": "text", "text": ""}, "encoding": {}},
        {"width": 125, "height": 87, "title": {"text": "(E)", "dx": -25, "dy": 8, "offset": 0}, "data": {"name": "arrows"}, "transform": [{"filter": "datum.g == 'E'"}],
         "mark": {"type": "point", "shape": "stroke", "size": 22, "strokeWidth": 0.8, "color": "#444", "opacity": 1},
         "encoding": {
           "x": {"field": "x", "type": "ordinal", "axis": {"labelAngle": 0, "title": ["Pole Number", "Frontal View"], "labelFont": "Liberation Serif", "titleFont": "Liberation Serif"}},
           "y": {"field": "y", "type": "quantitative", "scale": {"domain": [0.2, 2.2]}, "axis": {"values": [0.5, 1.0, 1.5, 2.0], "format": ".1f", "title": "Height above ground (m)", "labelFont": "Liberation Serif", "titleFont": "Liberation Serif"}},
           "angle": {"field": "a", "type": "quantitative", "scale": null}
         }},
        {"width": 127, "height": 93, "title": {"text": "(F)", "dx": -28, "dy": 8, "offset": 0}, "data": {"name": "arrows"}, "transform": [{"filter": "datum.g == 'F'"}],
         "mark": {"type": "point", "shape": "stroke", "size": 22, "strokeWidth": 0.8, "color": "#444", "opacity": 1},
         "encoding": {
           "x": {"field": "x", "type": "ordinal", "axis": {"labelAngle": 0, "title": ["Pole Number", "Lateral View"], "labelFont": "Liberation Serif", "titleFont": "Liberation Serif"}},
           "y": {"field": "y", "type": "quantitative", "scale": {"domain": [0.12, 2.25]}, "axis": {"values": [0.5, 1.0, 1.5, 2.0], "format": ".1f", "title": "Height above ground (m)", "labelFont": "Liberation Serif", "titleFont": "Liberation Serif"}},
           "angle": {"field": "a", "type": "quantitative", "scale": null}
         }}
      ]
    }
  ]
}
